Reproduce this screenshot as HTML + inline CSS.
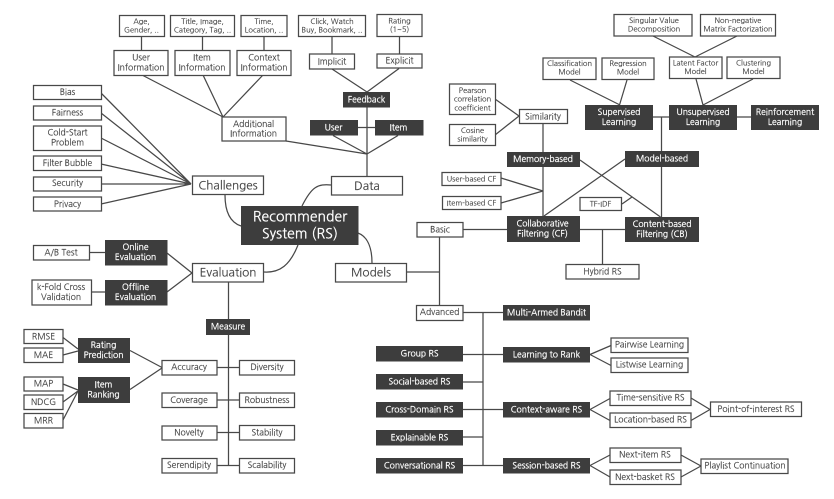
<!DOCTYPE html>
<html><head><meta charset="utf-8"><style>
html,body{margin:0;padding:0;background:#fff;width:834px;height:499px;overflow:hidden}
svg{display:block;filter:blur(0.35px)}
text{font-family:"NanumGothic","Liberation Sans",sans-serif;text-anchor:middle;fill:#444;stroke:#444;stroke-width:.15}
.w{fill:#fff;stroke:#484848;stroke-width:1.25}
.d{fill:#3d3d3d}
.dt text,text.dt{fill:#fff;stroke:#fff;stroke-width:.25}
.l{stroke:#484848;stroke-width:1.25;fill:none}
.s{font-size:7.5px}.m{font-size:8.6px}.b{font-size:11.8px}
</style></head><body>
<svg width="834" height="499" viewBox="0 0 834 499" xmlns="http://www.w3.org/2000/svg">
<g class="l">
<path d="M141.500 37V50M202.500 37V50M264 37V50M332 37V54M399.500 37V54"/>
<path d="M142 75L223 117M203 75L223 117M263 75L223 117"/>
<path d="M332 69L367 92M399 68.500L367 92M367 107V176M358 127.500H375"/>
<path d="M333 135.500L367 154M398 135.500L367 154M286 141L367 154"/>
<path d="M101 93L191 184M101 113L191 184M101 138L191 184M101 164L191 184M101 184L191 184M101 204L191 184"/>
<path d="M225 195C225 215 232 223 241 226M331 185C318 184 312 186 302 206"/>
<path d="M89 252.500H105M92 292H105M167 253L192 273M167 292L192 273M228.500 282V319M228.500 335V465.500"/>
<path d="M217 367.500H239M217 400H239M217 432.500H239M217 465.500H239"/>
<path d="M130 350.500L162 367.500M130 389.500L162 368M63 337.500L78 349M63 355L78 351M63 384L78 390M63 402L78 391M63 420L78 391"/>
<path d="M264 272C280 273 290 265 298 245M358 233C366 236 372 245 372 263M407 272H439.500M439.500 237V305M463 229.500H507"/>
<path d="M653 36L695 57M737 36L695 57M570 80L620 105M627 80L619.500 105M696 79L703 105M753 79L703 105"/>
<path d="M653 117H669M737 117H751M661.500 117V151M661.500 167V217"/>
<path d="M495 99L519 116M495 135L519 116M543 123V152M543 167V216M580 160L660.500 217M625 159L544 216"/>
<path d="M501 178L543 191M501 203L543 191M622 204L632 197M580 229.500H625M602.500 229.500V264"/>
<path d="M483 312.500V465.500M463 312.500H503M463 354.500H503M463 382H483M463 409.500H503M463 437H483M463 465.500H503"/>
<path d="M590 354.500L611 345.500M590 354.500L611 365.500M590 409.500L610 398.500M590 409.500L610 420.500M590 465.500L610 455M590 465.500L610 477"/>
<path d="M691 398L710 409.500M691 420.500L710 409.500M681 455L701 466M681 477L701 466"/>
</g>
<g class="w">
<rect x="119.500" y="15.500" width="45" height="21"/><rect x="170.500" y="15.500" width="64" height="21"/><rect x="241" y="15.500" width="46" height="21"/><rect x="298.500" y="15.500" width="67" height="21"/><rect x="377" y="14.500" width="45" height="22"/>
<rect x="114" y="50.500" width="54" height="25"/><rect x="175" y="50.500" width="55" height="25"/><rect x="237" y="50.500" width="54" height="25"/><rect x="309.500" y="54" width="45" height="15"/><rect x="377" y="54" width="45" height="14"/>
<rect x="222" y="117" width="64" height="24"/>
<rect x="33.500" y="85.500" width="68" height="14"/><rect x="33.500" y="106" width="68" height="14"/><rect x="33.500" y="126" width="68" height="24.500"/><rect x="33.500" y="156" width="68" height="14.500"/><rect x="33.500" y="177" width="68" height="14"/><rect x="33.500" y="197" width="68" height="14"/>
<rect x="192.500" y="176" width="71" height="18.500"/><rect x="331.500" y="176.500" width="71" height="18.500"/>
<rect x="33.500" y="245.500" width="56" height="14.500"/><rect x="32" y="280" width="59.500" height="25"/>
<rect x="192.500" y="263.500" width="71" height="18.500"/><rect x="335.500" y="263.500" width="71" height="18.500"/>
<rect x="24" y="329.500" width="39" height="14"/><rect x="24" y="348" width="39" height="14.500"/><rect x="24" y="377" width="39" height="14"/><rect x="24" y="395" width="39" height="14.500"/><rect x="24" y="413.500" width="39" height="14.500"/>
<rect x="162" y="360.500" width="55" height="14.500"/><rect x="162" y="393" width="55" height="14.500"/><rect x="162" y="426" width="55" height="14"/><rect x="162" y="458.500" width="55" height="14.500"/>
<rect x="239.500" y="360.500" width="55" height="14.500"/><rect x="239.500" y="393" width="55" height="14.500"/><rect x="239.500" y="425.500" width="55" height="14.500"/><rect x="239.500" y="458.500" width="55" height="14.500"/>
<rect x="417" y="222.500" width="46" height="14.500"/><rect x="416.500" y="305.500" width="46.500" height="15"/>
<rect x="614" y="14.500" width="78" height="21.500"/><rect x="700.500" y="14.500" width="75" height="21.500"/>
<rect x="543" y="58" width="53" height="21.500"/><rect x="602" y="58" width="52" height="21.500"/><rect x="669.500" y="57" width="52.500" height="21.500"/><rect x="727" y="57" width="53" height="21.500"/>
<rect x="449.500" y="84" width="46" height="30.500"/><rect x="449.500" y="124.500" width="46" height="21"/><rect x="519.500" y="109.500" width="48" height="14"/>
<rect x="442" y="172.500" width="59" height="13"/><rect x="442.500" y="196.500" width="58.500" height="13"/><rect x="580" y="197.500" width="41.500" height="13"/><rect x="566" y="264.500" width="73" height="14.500"/>
<rect x="611" y="338" width="77" height="14.500"/><rect x="611" y="358" width="77" height="14.500"/><rect x="610" y="391" width="81" height="14.500"/><rect x="610" y="413" width="81" height="14.500"/><rect x="710.500" y="402" width="91" height="14.500"/>
<rect x="610" y="448" width="71" height="14.500"/><rect x="610" y="470" width="71" height="14.500"/><rect x="701" y="459" width="87" height="14.500"/>
</g>
<g class="d">
<rect x="343" y="92" width="47" height="15.500"/><rect x="310" y="120" width="48" height="15.500"/><rect x="375" y="120" width="48.500" height="15.500"/>
<rect x="241" y="206" width="117.500" height="39"/>
<rect x="105" y="240" width="62.500" height="25.500"/><rect x="105" y="280" width="62.500" height="25.500"/><rect x="206" y="319" width="44" height="16"/>
<rect x="78" y="338" width="52" height="25"/><rect x="78" y="377" width="52" height="26"/>
<rect x="585" y="105" width="68" height="25"/><rect x="669" y="105" width="68" height="25"/><rect x="751" y="105" width="68" height="25"/>
<rect x="507" y="152" width="73" height="15"/><rect x="625" y="151" width="74" height="16"/><rect x="507" y="216" width="73" height="26"/><rect x="625" y="217" width="74" height="25"/>
<rect x="503" y="305" width="87" height="15.500"/><rect x="376" y="346" width="87" height="15.500"/><rect x="376" y="374" width="87" height="15.500"/><rect x="376" y="402" width="87" height="15.500"/><rect x="376" y="430" width="87" height="15.500"/><rect x="376" y="458" width="87" height="15.500"/>
<rect x="503" y="347" width="87" height="15.500"/><rect x="503" y="402" width="87" height="15.500"/><rect x="503" y="458" width="87" height="15.500"/>
</g>
<g class="s">
<text x="141.500" y="24">Age,</text><text x="141.500" y="32.500">Gender, ..</text>
<text x="202.500" y="24">Title, Image,</text><text x="202.500" y="32.500">Category, Tag, ..</text>
<text x="264" y="24">Time,</text><text x="264" y="32.500">Location, ..</text>
<text x="332" y="24">Click, Watch</text><text x="332" y="32.500">Buy, Bookmark, ..</text>
<text x="399.500" y="23.500">Rating</text><text x="399.500" y="32">(1~5)</text>
<text x="654" y="23">Singular Value</text><text x="654" y="31.500">Decomposition</text>
<text x="738" y="23">Non-negative</text><text x="738" y="31.500">Matrix Factorization</text>
<text x="569.500" y="66">Classification</text><text x="569.500" y="74.500">Model</text>
<text x="628" y="66">Regression</text><text x="628" y="74.500">Model</text>
<text x="695.500" y="65.500">Latent Factor</text><text x="695.500" y="74">Model</text>
<text x="753.500" y="65.500">Clustering</text><text x="753.500" y="74">Model</text>
<text x="472.500" y="93">Pearson</text><text x="472.500" y="101.500">correlation</text><text x="472.500" y="110.500">coefficient</text>
<text x="472.500" y="133">Cosine</text><text x="472.500" y="141.500">similarity</text>
<text x="471.500" y="181.500">User-based CF</text><text x="471.500" y="205.500">Item-based CF</text><text x="600.500" y="206.500">TF-IDF</text>
</g>
<g class="m">
<text x="141" y="60.500">User</text><text x="141" y="70.500">Information</text>
<text x="202" y="60.500">Item</text><text x="202" y="70.500">Information</text>
<text x="264" y="60.500">Context</text><text x="264" y="70.500">Information</text>
<text x="332" y="64.500">Implicit</text><text x="399.500" y="63.500">Explicit</text>
<text x="253.500" y="127">Additional</text><text x="253.500" y="136.500">Information</text>
<text x="67.500" y="95">Bias</text><text x="67.500" y="115.500">Fairness</text><text x="67.500" y="135.500">Cold-Start</text><text x="67.500" y="145.500">Problem</text><text x="67.500" y="166">Filter Bubble</text><text x="67.500" y="186">Security</text><text x="67.500" y="207">Privacy</text>
<text x="61" y="255.500">A/B Test</text><text x="61" y="290">k-Fold Cross</text><text x="61" y="300">Validation</text>
<text x="43.500" y="339.500">RMSE</text><text x="43.500" y="358">MAE</text><text x="43.500" y="386.500">MAP</text><text x="43.500" y="405">NDCG</text><text x="43.500" y="423.500">MRR</text>
<text x="189" y="370">Accuracy</text><text x="189" y="403">Coverage</text><text x="189" y="435.500">Novelty</text><text x="189" y="468">Serendipity</text>
<text x="267" y="370">Diversity</text><text x="267" y="403">Robustness</text><text x="267" y="435.500">Stability</text><text x="267" y="468">Scalability</text>
<text x="440" y="232.500">Basic</text><text x="439.500" y="315">Advanced</text><text x="543" y="119.500">Similarity</text><text x="602.500" y="274.500">Hybrid RS</text>
<text x="649.500" y="347.500">Pairwise Learning</text><text x="649.500" y="367.500">Listwise Learning</text>
<text x="650.500" y="400.500">Time-sensitive RS</text><text x="650.500" y="422.500">Location-based RS</text><text x="756" y="412">Point-of-interest RS</text>
<text x="645" y="457.500">Next-item RS</text><text x="645" y="480">Next-basket RS</text><text x="745" y="468.500">Playlist Continuation</text>
</g>
<g class="b">
<text x="228" y="189.500">Challenges</text><text x="367" y="190">Data</text><text x="228" y="276.500">Evaluation</text><text x="371" y="276.500">Models</text>
</g>
<g class="m dt">
<text x="366.500" y="102.500">Feedback</text><text x="333.500" y="130.500">User</text><text x="398.500" y="130.500">Item</text>
<text x="135.500" y="250">Online</text><text x="135.500" y="260">Evaluation</text><text x="135.500" y="290">Offline</text><text x="135.500" y="300">Evaluation</text>
<text x="228" y="329.500">Measure</text>
<text x="103.500" y="348">Rating</text><text x="103.500" y="358">Prediction</text><text x="103.500" y="387.500">Item</text><text x="103.500" y="397.500">Ranking</text>
<text x="619" y="115">Supervised</text><text x="619" y="125">Learning</text><text x="703" y="115">Unsupervised</text><text x="703" y="125">Learning</text><text x="785" y="115">Reinforcement</text><text x="785" y="125">Learning</text>
<text x="543" y="162">Memory-based</text><text x="662" y="161.500">Model-based</text>
<text x="542.500" y="226.500">Collaborative</text><text x="542.500" y="236.500">Filtering (CF)</text><text x="662" y="227">Content-based</text><text x="662" y="237">Filtering (CB)</text>
<text x="546.500" y="315.500">Multi-Armed Bandit</text><text x="419.500" y="356.500">Group RS</text><text x="419.500" y="384.500">Social-based RS</text><text x="419.500" y="412.500">Cross-Domain RS</text><text x="419.500" y="440.500">Explainable RS</text><text x="419.500" y="468.500">Conversational RS</text>
<text x="546.500" y="357.500">Learning to Rank</text><text x="546.500" y="412.500">Context-aware RS</text><text x="546.500" y="468.500">Session-based RS</text>
</g>
<text x="300" y="221.500" font-size="14" class="dt">Recommender</text>
<text x="300" y="238.500" font-size="14" class="dt">System (RS)</text>
</svg>
</body></html>
